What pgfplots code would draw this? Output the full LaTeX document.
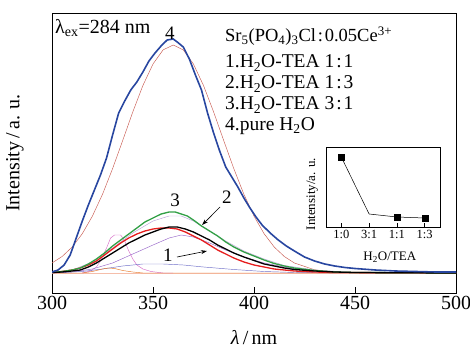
\documentclass[border=0pt]{standalone}
\usepackage{fontspec}
\setmainfont{Liberation Serif}
\usepackage{pgfplots}
\pgfplotsset{compat=1.18}
\usetikzlibrary{arrows.meta}
\definecolor{cblue}{RGB}{40,70,160}
\definecolor{cgreen}{RGB}{50,160,70}
\definecolor{cred}{RGB}{230,30,30}
\definecolor{cfit}{RGB}{200,90,80}
\definecolor{cpink}{RGB}{215,110,200}
\definecolor{cpurple}{RGB}{150,100,200}
\definecolor{cbp}{RGB}{110,110,200}
\definecolor{corange}{RGB}{230,120,40}
\definecolor{csalmon}{RGB}{245,190,170}
\definecolor{clav}{RGB}{185,160,215}
\newcommand{\rc}{\kern0.1em:\kern0.1em}
\begin{document}
\begin{tikzpicture}
\path[use as bounding box] (0pt,0pt) rectangle (470pt,350pt);
\begin{axis}[at={(52pt,57pt)}, anchor=south west, scale only axis,
  width=404pt, height=280pt, xmin=300, xmax=500, ymin=-20, ymax=260,
  xtick={300,350,...,500}, ytick=\empty, tick align=inside, xtick pos=bottom,
  major tick length=6pt, axis line style={line width=0.9pt}, tick style={line width=0.8pt, black},
  ticklabel style={font=\fontsize{20}{23}\selectfont},
  /pgf/number format/assume math mode=true, /pgf/number format/1000 sep={},
  xlabel={\textit{λ}\,/\,nm}, ylabel={Intensity\,/\,a. u.},
  label style={font=\fontsize{20}{23}\selectfont},
  xlabel style={at={(axis description cs:0.5,-0.16)}, anchor=center},
  ylabel style={at={(axis description cs:-0.092,0.5)}, anchor=center},
  clip=true]
% baseline
\addplot[csalmon, line width=1.5pt] coordinates {(300,-0.5) (500,-0.5)};
% fit of 4
\addplot[cfit, line width=0.45pt] coordinates {
(300,10.0) (305,16.5) (310,26.0) (315,39.3) (320,56.9) (325,78.7) (330,104.4) (335,132.5)
(340,161.1) (345,187.5) (350,209.0) (355,223.1) (360,228) (365,223.1) (370,209.0) (375,187.5)
(380,161.1) (385,132.5) (390,104.4) (395,78.7) (400,56.9) (405,39.3) (410,26.0) (415,16.5)
(420,10.0) (430,3.2) (440,0.9) (450,0.2) (460,0) (500,0)};
% components
\addplot[cpink, line width=0.45pt] coordinates {
(315,0) (319,2) (322,6) (324,12) (327,25) (329,35) (331,38) (334,38) (336,32) (338,22)
(340,14) (342,8) (345,4) (349,1.5) (355,0) (360,0)};
\addplot[cpurple, line width=0.45pt] coordinates {
(300,0) (310,1) (320,4) (330,10) (340,19) (350,28) (358,35) (364,38) (370,36) (378,30)
(386,23) (395,16) (405,10) (415,6) (425,3) (440,1) (460,0) (500,0)};
\addplot[cbp, line width=0.45pt] coordinates {
(300,0) (315,1.5) (325,4) (335,7) (345,9) (355,9) (365,8) (375,6) (390,3.5) (405,1.5)
(420,0.5) (440,0) (500,0)};
\addplot[corange, line width=0.45pt] coordinates {
(300,0) (315,0) (320,1.5) (325,4) (328,5) (331,4.5) (335,2.5) (340,1) (345,0) (500,0)};
\addplot[clav, line width=0.45pt] coordinates {
(300,0.5) (310,3) (320,11) (330,25) (340,40) (350,52) (358,57) (364,57) (370,52) (378,42)
(386,32) (395,22) (405,14) (415,7.5) (430,3) (450,0.5) (500,0)};
% curve 1 (red)
\addplot[cred, line width=1.3pt] coordinates {
(300,0.5) (305,1.5) (310,3) (314,5) (318,8) (322,12) (326,18) (330,24) (334,30) (338,35)
(342,39) (346,42) (350,44) (354,45) (358,45) (362,44) (366,41) (370,37) (374,33) (378,28)
(382,23) (386,19) (390,15) (395,11) (400,8) (405,6) (410,4) (415,3) (420,2) (430,1)
(440,0.5) (500,0)};
% curve 3 (green)
\addplot[cgreen, line width=1.3pt] coordinates {
(300,0.5) (305,1.5) (310,3) (314,5) (318,9) (322,14) (326,20) (330,27) (334,33) (338,39)
(342,45) (346,51) (350,55) (354,59) (358,61) (361,61) (364,59) (367,57) (370,53) (374,47)
(378,42) (382,37) (386,31) (390,26) (395,21) (400,17) (405,13) (410,9.5) (415,7) (420,5)
(430,2.5) (440,1) (450,0.5) (500,0)};
% curve 2 (black)
\addplot[black, line width=1.3pt] coordinates {
(300,0.5) (305,1) (310,2) (314,3) (318,6) (322,10) (326,15) (330,20) (334,25) (338,30)
(342,34) (346,38) (350,41) (354,44) (358,46) (362,46) (366,44) (370,41) (374,37) (378,33)
(382,28) (386,24) (390,20) (395,16) (400,12.5) (405,9) (410,7) (415,5) (420,3.5) (430,2)
(440,1) (450,0.5) (500,0)};
% curve 4 (blue)
\addplot[cblue, line width=1.6pt] coordinates {
(300,1) (303,3) (306,8) (309,18) (312,35) (315,52) (318,68) (321,83) (324,98) (327,115)
(330,138) (333,160) (336,172) (339,183) (342,191) (345,201) (348,212) (351,220) (354,227)
(357,233) (360,234) (362,231) (365,226) (368,214) (371,198) (374,183) (377,160) (380,140)
(383,122) (386,106) (389,96) (392,86) (395,75) (398,65) (401,56) (404,48) (408,40) (412,33)
(416,27) (420,22) (425,16) (430,12) (435,9) (440,7) (445,5.5) (450,4.5) (460,3) (470,2)
(480,1.5) (490,1) (500,1)};
% annotations
\node[font=\fontsize{19}{22}\selectfont] at (axis cs:358.4,240) {4};
\node[font=\fontsize{19}{22}\selectfont] at (axis cs:360.9,73) {3};
\node[font=\fontsize{19}{22}\selectfont] at (axis cs:386.6,76) {2};
\node[font=\fontsize{19}{22}\selectfont] at (axis cs:357.4,18) {1};
\draw[-{Stealth[length=6pt,width=4pt]}, line width=0.6pt] (axis cs:383.2,66) -- (axis cs:374.3,48);
\draw[-{Stealth[length=6pt,width=4pt]}, line width=0.6pt] (axis cs:361.9,16) -- (axis cs:376.7,22);
\end{axis}
% inset
\begin{axis}[at={(326pt,123pt)}, anchor=south west, scale only axis,
  width=114pt, height=80pt, xmin=-0.55, xmax=3.55, ymin=0, ymax=80,
  xtick={0,1,2,3}, xticklabels={1:0,3:1,1:1,1:3}, ytick=\empty,
  tick align=inside, xtick pos=bottom, major tick length=4pt,
  axis line style={line width=0.7pt}, tick style={line width=0.6pt, black},
  ticklabel style={font=\fontsize{12.5}{14}\selectfont},
  xlabel={H\textsubscript{2}O/TEA}, ylabel={Intensity/a. u.},
  label style={font=\fontsize{13}{15}\selectfont},
  xlabel style={at={(axis description cs:0.56,-0.375)}, anchor=center},
  ylabel style={at={(axis description cs:-0.12,0.41)}, anchor=center}]
\addplot[black, line width=0.5pt] coordinates {(0,70) (1,13) (2,10) (3,9)};
\addplot[only marks, mark=square*, mark size=3pt, black] coordinates {(0,70) (2,10) (3,9)};
\end{axis}
% texts
\node[anchor=west, font=\fontsize{20}{23}\selectfont, inner sep=0pt] at (55pt,322pt) {λ\textsubscript{ex}=284 nm};
\node[anchor=west, font=\fontsize{18.5}{21}\selectfont, inner sep=0pt] at (225pt,314pt) {Sr\textsubscript{5}(PO\textsubscript{4})\textsubscript{3}Cl\rc 0.05Ce\textsuperscript{3+}};
\node[anchor=west, font=\fontsize{19.5}{22}\selectfont, inner sep=0pt] at (225pt,287pt) {1.H\textsubscript{2}O-TEA 1\rc 1};
\node[anchor=west, font=\fontsize{19.5}{22}\selectfont, inner sep=0pt] at (225pt,266pt) {2.H\textsubscript{2}O-TEA 1\rc 3};
\node[anchor=west, font=\fontsize{19.5}{22}\selectfont, inner sep=0pt] at (225pt,245pt) {3.H\textsubscript{2}O-TEA 3\rc 1};
\node[anchor=west, font=\fontsize{19.5}{22}\selectfont, inner sep=0pt] at (225pt,224pt) {4.pure H\textsubscript{2}O};
\end{tikzpicture}
\end{document}
